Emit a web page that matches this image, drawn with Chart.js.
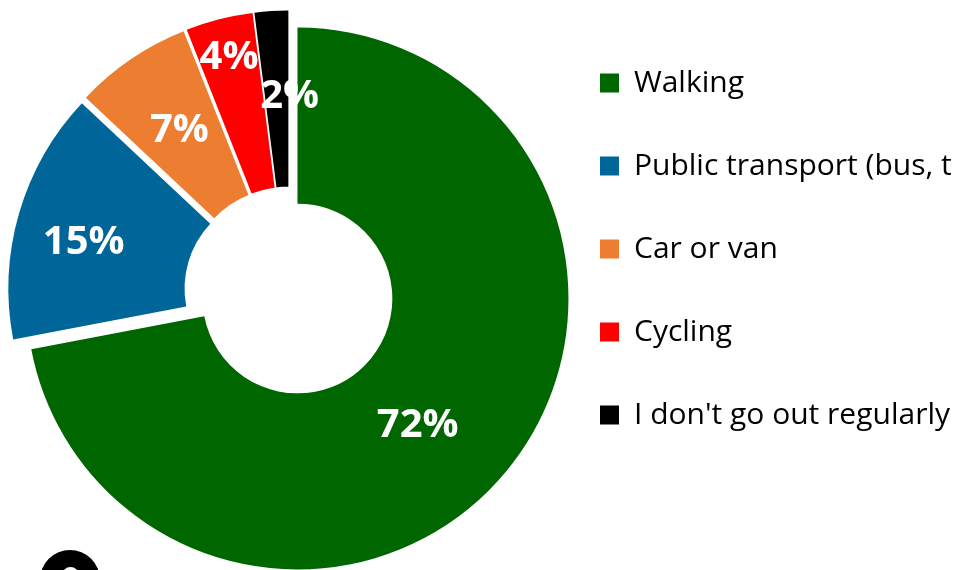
<!DOCTYPE html>
<html>
<head>
<meta charset="utf-8">
<script src="https://cdn.jsdelivr.net/npm/chart.js@4.4.1/dist/chart.umd.min.js"></script>
<style>
  html, body { margin: 0; padding: 0; background: #fff; overflow: hidden; }
  #wrap { position: relative; width: 953px; height: 570px; overflow: hidden; }
  #badge { position: absolute; left: 40px; top: 550px; width: 60px; height: 60px; border-radius: 50%; background: #000; }
  #badge span { position: absolute; left: 22px; top: 17px; width: 17px; height: 17px; border-radius: 50%; background: #fff; }
</style>
</head>
<body>
<div id="wrap">
  <canvas id="travelChart" width="953" height="570"></canvas>
  <div id="badge"><span></span></div>
</div>
<script>
// Data
const categories = ['Walking', 'Public transport (bus, train, tram)', 'Car or van', 'Cycling', "I don't go out regularly"];
const shares = [72, 15, 7, 4, 2];
const sliceColours = ['#006600', '#006699', '#ED7D31', '#FF0000', '#000000'];

// how far each slice is pulled out of the centre (px)
const explode = [11, 10, 10, 10, 10];
// where the % label sits: distance from the slice centre and a small turn (degrees)
const labelRadius = [175, 201, 185, 231, 185];
const labelTurn = [7, -3, 0, 0, 4];

// pull every slice outwards along its own middle angle
const explodePlugin = {
    id: 'explode',
    afterDatasetUpdate(chart, args) {
        args.meta.data.forEach((arc, i) => {
            const mid = (arc.startAngle + arc.endAngle) / 2;
            arc.x += Math.cos(mid) * explode[i];
            arc.y += Math.sin(mid) * explode[i];
        });
    }
};

// white percentage labels inside the slices
const pctLabels = {
    id: 'pctLabels',
    afterDatasetsDraw(chart) {
        const ctx = chart.ctx;
        const meta = chart.getDatasetMeta(0);
        ctx.save();
        ctx.font = 'bold 40px "Open Sans", sans-serif';
        ctx.fillStyle = '#ffffff';
        ctx.textAlign = 'center';
        ctx.textBaseline = 'middle';
        meta.data.forEach((arc, i) => {
            const a = (arc.startAngle + arc.endAngle) / 2 + labelTurn[i] * Math.PI / 180;
            const x = arc.x + Math.cos(a) * labelRadius[i];
            const y = arc.y + Math.sin(a) * labelRadius[i];
            ctx.fillText(shares[i] + '%', x, y);
        });
        ctx.restore();
    }
};

document.addEventListener('DOMContentLoaded', function () {
    const ctx = document.getElementById('travelChart').getContext('2d');
    new Chart(ctx, {
        type: 'doughnut',
        data: {
            labels: categories,
            datasets: [{
                data: shares,
                backgroundColor: sliceColours,
                borderWidth: 0
            }]
        },
        options: {
            responsive: false,
            animation: false,
            events: [],
            radius: 271,
            cutout: '35%',
            layout: { padding: { left: 31, top: 15, bottom: 2, right: 0 } },
            plugins: {
                legend: {
                    position: 'right',
                    align: 'start',
                    maxWidth: 406,
                    labels: {
                        boxWidth: 19,
                        boxHeight: 19,
                        padding: 53,
                        color: '#000000',
                        font: { family: '"Open Sans", sans-serif', size: 30 }
                    }
                },
                tooltip: { enabled: false }
            }
        },
        plugins: [explodePlugin, pctLabels]
    });
});
</script>
</body>
</html>
